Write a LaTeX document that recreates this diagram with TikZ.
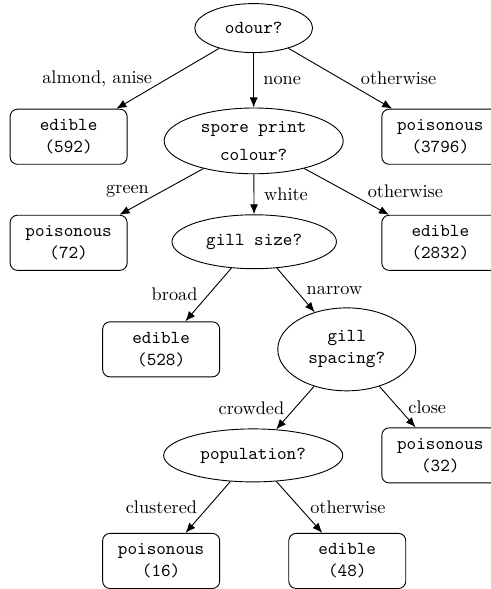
\documentclass[tikz,border=0pt]{standalone}
\usetikzlibrary{shapes.geometric, arrows.meta}
\begin{document}
\begin{tikzpicture}[>={Latex[length=5.5pt, width=4.4pt]}, line width=0.5pt,
		test/.style={draw, ellipse, inner sep=0pt, font=\ttfamily, align=center},
		leaf/.style={draw, rounded corners=4pt, minimum width=2.25cm, minimum height=1.06cm, font=\ttfamily, align=center}]
		\useasboundingbox (0, 0) rectangle (9.44, -11.33);
		% questions
		\node[test, minimum width=64.5pt, minimum height=26.8pt] (odour) at (4.88, -0.54) {odour?};
		\node[test, minimum width=98pt, minimum height=36pt] (spore) at (4.88, -2.71) {spore print\\[3pt]colour?};
		\node[test, minimum width=90pt, minimum height=29.5pt] (size) at (4.89, -4.65) {gill size?};
		\node[test, minimum width=75.5pt, minimum height=45.4pt] (spacing) at (6.67, -6.72) {gill\\spacing?};
		\node[test, minimum width=98pt, minimum height=29pt] (population) at (4.87, -8.76) {population?};

		% leaves
		\node[leaf] (ed592) at (1.32, -2.63) {edible\\(592)};
		\node[leaf] (po3796) at (8.47, -2.63) {poisonous\\(3796)};
		\node[leaf] (po72) at (1.32, -4.67) {poisonous\\(72)};
		\node[leaf] (ed2832) at (8.47, -4.67) {edible\\(2832)};
		\node[leaf] (ed528) at (3.10, -6.72) {edible\\(528)};
		\node[leaf] (po32) at (8.47, -8.76) {poisonous\\(32)};
		\node[leaf] (po16) at (3.10, -10.79) {poisonous\\(16)};
		\node[leaf] (ed48) at (6.68, -10.79) {edible\\(48)};

		\draw[->] (odour) -- (ed592) node[midway, left=5pt] {almond, anise};
		\draw[->] (odour) -- (spore) node[midway, right=1.7pt] {none};
		\draw[->] (odour) -- (po3796) node[midway, right=7.7pt] {otherwise};

		\draw[->] (spore) -- (po72) node[midway, left=3.3pt] {green};
		\draw[->] (spore) -- (size) node[midway, right=2pt] {white};
		\draw[->] (spore) -- (ed2832) node[midway, right=8pt] {otherwise};

		\draw[->] (size) -- (ed528) node[midway, left=2.4pt] {broad};
		\draw[->] (size) -- (spacing) node[midway, right=2.4pt] {narrow};

		\draw[->] (spacing) -- (population) node[midway, left=2.4pt] {crowded};
		\draw[->] (spacing) -- (po32) node[midway, right=2.4pt] {close};

		\draw[->] (population) -- (po16) node[midway, left=2.4pt] {clustered};
		\draw[->] (population) -- (ed48) node[midway, right=2.4pt] {otherwise};
	\end{tikzpicture}
\end{document}
